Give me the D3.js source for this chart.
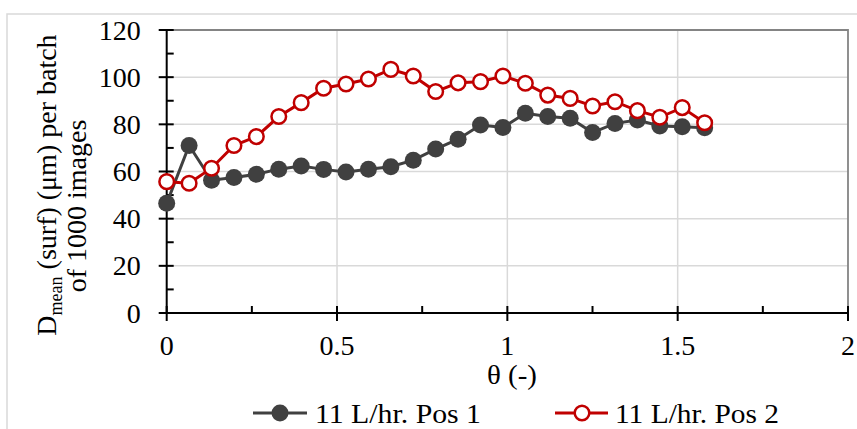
<!DOCTYPE html>
<html>
<head>
<meta charset="utf-8">
<script src="https://cdn.jsdelivr.net/npm/d3@7/dist/d3.min.js"></script>
<style>
  html, body { margin: 0; padding: 0; background: #fff; }
  svg { display: block; }
</style>
</head>
<body>
<svg id="chart" width="857" height="429" font-family="'Liberation Serif', 'DejaVu Serif', serif"></svg>
<script>
// ---- data ----
const theta = [0, 0.0658, 0.1316, 0.1974, 0.2632, 0.3290, 0.3948, 0.4606, 0.5264, 0.5922,
  0.6580, 0.7238, 0.7896, 0.8554, 0.9212, 0.9870, 1.0528, 1.1186, 1.1844, 1.2502,
  1.3160, 1.3818, 1.4476, 1.5134, 1.5792];
const pos1 = [46.5, 71.0, 56.3, 57.5, 58.8, 61.0, 62.3, 60.9, 59.8, 61.0,
  62.0, 64.8, 69.5, 73.7, 79.7, 78.7, 84.7, 83.3, 82.6, 76.5,
  80.4, 81.8, 79.3, 79.0, 78.6];
const pos2 = [55.7, 55.0, 61.4, 71.0, 74.8, 83.3, 89.2, 95.3, 97.1, 99.2,
  103.3, 100.5, 93.9, 97.6, 98.1, 100.5, 97.4, 92.4, 91.0, 87.8,
  89.6, 85.8, 83.0, 87.1, 80.7];
const seriesNames = ["11 L/hr. Pos 1", "11 L/hr. Pos 2"];
const xTicks = [0, 0.5, 1, 1.5, 2];
const xTickLabels = ["0", "0.5", "1", "1.5", "2"];
const yTicks = [0, 20, 40, 60, 80, 100, 120];
const yTickLabels = ["0", "20", "40", "60", "80", "100", "120"];
const xMinor = [0.25, 0.75, 1.25, 1.75];
const yMinor = [10, 30, 50, 70, 90, 110];

// ---- layout ----
const svg = d3.select("#chart");
const FONT = "'Liberation Serif', 'DejaVu Serif', serif";
const L = 166.7, R = 848, T = 30, B = 313;
const x = d3.scaleLinear().domain([0, 2]).range([L, R]);
const y = d3.scaleLinear().domain([0, 120]).range([B, T]);
const dark = "#404040", red = "#c00000", grid = "#d9d9d9";
const fs = 28;

// outer chart border
svg.append("rect").attr("x", 7).attr("y", 14).attr("width", 900).attr("height", 500)
  .attr("fill", "none").attr("stroke", grid).attr("stroke-width", 1.5);

// gridlines
svg.append("g").selectAll("line").data(yTicks.filter(d => d > 0 && d < 120)).join("line")
  .attr("x1", L).attr("x2", R).attr("y1", d => y(d)).attr("y2", d => y(d))
  .attr("stroke", grid).attr("stroke-width", 1.5);
svg.append("g").selectAll("line").data(xTicks.filter(d => d > 0 && d < 2)).join("line")
  .attr("y1", T).attr("y2", B).attr("x1", d => x(d)).attr("x2", d => x(d))
  .attr("stroke", grid).attr("stroke-width", 1.5);

// plot border (top, right)
svg.append("path").attr("d", `M${L},${T}H${R}V${B}`)
  .attr("fill", "none").attr("stroke", "#848484").attr("stroke-width", 1.8);

// axes
const yAxis = svg.append("g").attr("transform", `translate(${L},0)`);
yAxis.append("line").attr("x1", 0).attr("x2", 0).attr("y1", T).attr("y2", B)
  .attr("stroke", "#000").attr("stroke-width", 2);
yAxis.selectAll(".maj").data(yTicks).join("line").attr("class", "maj")
  .attr("x1", -8).attr("x2", 7).attr("y1", d => y(d)).attr("y2", d => y(d))
  .attr("stroke", "#000").attr("stroke-width", 2);
yAxis.selectAll(".min").data(yMinor).join("line").attr("class", "min")
  .attr("x1", 0).attr("x2", 7).attr("y1", d => y(d)).attr("y2", d => y(d))
  .attr("stroke", "#000").attr("stroke-width", 2);
yAxis.selectAll("text").data(yTicks).join("text")
  .attr("x", -26).attr("y", d => y(d)).attr("dy", "0.34em")
  .attr("text-anchor", "end").attr("font-size", fs).attr("font-family", FONT)
  .text((d, i) => yTickLabels[i]);

const xAxis = svg.append("g").attr("transform", `translate(0,${B})`);
xAxis.append("line").attr("x1", L).attr("x2", R).attr("y1", 0).attr("y2", 0)
  .attr("stroke", "#000").attr("stroke-width", 2);
xAxis.selectAll(".maj").data(xTicks).join("line").attr("class", "maj")
  .attr("x1", d => x(d)).attr("x2", d => x(d)).attr("y1", -7).attr("y2", 8)
  .attr("stroke", "#000").attr("stroke-width", 2);
xAxis.selectAll(".min").data(xMinor).join("line").attr("class", "min")
  .attr("x1", d => x(d)).attr("x2", d => x(d)).attr("y1", -7).attr("y2", 0)
  .attr("stroke", "#000").attr("stroke-width", 2);
xAxis.selectAll("text").data(xTicks).join("text")
  .attr("x", d => x(d)).attr("y", 42)
  .attr("text-anchor", "middle").attr("font-size", fs).attr("font-family", FONT)
  .text((d, i) => xTickLabels[i]);

// axis titles
svg.append("text").attr("x", 512).attr("y", 384).attr("text-anchor", "middle")
  .attr("font-size", fs).attr("font-family", FONT)
  .attr("textLength", 50).attr("lengthAdjust", "spacingAndGlyphs").text("θ (-)");

const yt = svg.append("text").attr("transform", "translate(56,185) rotate(-90)")
  .attr("text-anchor", "middle").attr("font-size", fs).attr("font-family", FONT);
yt.append("tspan").text("D");
yt.append("tspan").attr("font-size", 18).attr("dy", 6).text("mean");
yt.append("tspan").attr("dy", -6).text(" (surf) (μm) per batch");
svg.append("text").attr("transform", "translate(86,206) rotate(-90)")
  .attr("text-anchor", "middle").attr("font-size", fs).attr("font-family", FONT)
  .text("of 1000 images");

// series
const data1 = theta.map((t, i) => ({ x: t, y: pos1[i] }));
const data2 = theta.map((t, i) => ({ x: t, y: pos2[i] }));
const line = d3.line().x(d => x(d.x)).y(d => y(d.y));

svg.append("path").datum(data1).attr("d", line)
  .attr("fill", "none").attr("stroke", dark).attr("stroke-width", 3);
svg.append("g").selectAll("circle").data(data1).join("circle")
  .attr("cx", d => x(d.x)).attr("cy", d => y(d.y)).attr("r", 8.5)
  .attr("fill", dark);

svg.append("path").datum(data2).attr("d", line)
  .attr("fill", "none").attr("stroke", red).attr("stroke-width", 3);
svg.append("g").selectAll("circle").data(data2).join("circle")
  .attr("cx", d => x(d.x)).attr("cy", d => y(d.y)).attr("r", 7.3)
  .attr("fill", "#fff").attr("stroke", red).attr("stroke-width", 2.5);

// legend
const lg = svg.append("g");
const ly = 413;
lg.append("line").attr("x1", 253).attr("x2", 307).attr("y1", ly).attr("y2", ly)
  .attr("stroke", dark).attr("stroke-width", 3);
lg.append("circle").attr("cx", 280).attr("cy", ly).attr("r", 8.5).attr("fill", dark);
lg.append("text").attr("x", 315).attr("y", ly).attr("dy", "0.34em")
  .attr("font-size", fs).attr("font-family", FONT)
  .attr("textLength", 166).attr("lengthAdjust", "spacingAndGlyphs").text(seriesNames[0]);
lg.append("line").attr("x1", 555).attr("x2", 608).attr("y1", ly).attr("y2", ly)
  .attr("stroke", red).attr("stroke-width", 3);
lg.append("circle").attr("cx", 582).attr("cy", ly).attr("r", 7.3)
  .attr("fill", "#fff").attr("stroke", red).attr("stroke-width", 2.5);
lg.append("text").attr("x", 615).attr("y", ly).attr("dy", "0.34em")
  .attr("font-size", fs).attr("font-family", FONT)
  .attr("textLength", 164).attr("lengthAdjust", "spacingAndGlyphs").text(seriesNames[1]);
</script>
</body>
</html>
